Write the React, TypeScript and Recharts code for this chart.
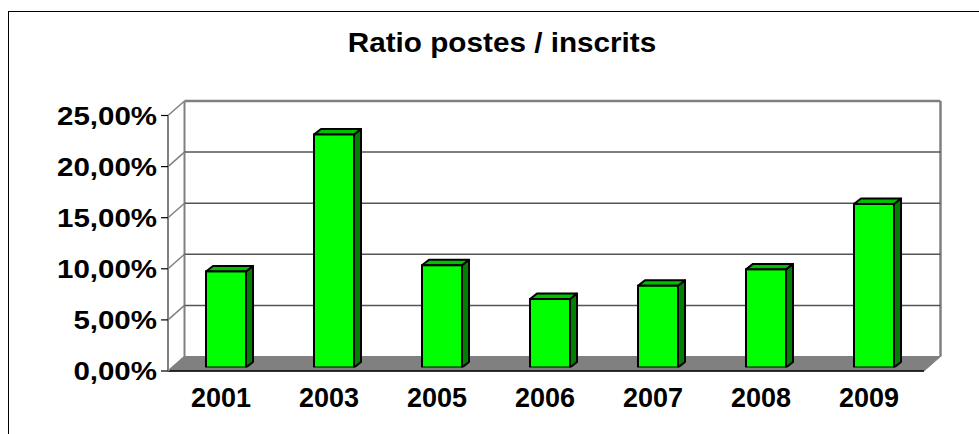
import React from 'react';
import { BarChart, Bar, XAxis, YAxis, CartesianGrid } from 'recharts';

const title = 'Ratio postes / inscrits';
const years = ['2001', '2003', '2005', '2006', '2007', '2008', '2009'];
const ratios = [9.4, 22.8, 10.0, 6.7, 8.0, 9.6, 16.0];
const yTicks = [0, 5, 10, 15, 20, 25];
const yTickLabels = ['0,00%', '5,00%', '10,00%', '15,00%', '20,00%', '25,00%'];

const data = years.map((year, i) => ({ year, ratio: ratios[i] }));

// pseudo-3D projection offsets relative to the bar plane
const FRONT_DX = -4;
const FRONT_DY = 3.5;
const BACK_DX = 12.5;
const BACK_DY = -11;
const BAR_DX = 7;
const BAR_DY = -5.5;

const FONT = '"Liberation Sans", Arial, sans-serif';

const GridLine = (p: any) => {
  const { x1, x2, y1 } = p;
  const px = typeof p.x === 'number' ? p.x : x1;
  const pw = typeof p.width === 'number' ? p.width : x2 - x1;
  const py = typeof p.y === 'number' ? p.y : y1;
  const ph = typeof p.height === 'number' ? p.height : 0;
  const y = y1;
  const isBottom = Math.abs(y - (py + ph)) < 0.6;
  const isTop = Math.abs(y - py) < 0.6;
  return (
    <g>
      {isBottom && (
        <g>
          <line x1={px + FRONT_DX} y1={py + FRONT_DY} x2={px + FRONT_DX} y2={py + ph + FRONT_DY} stroke="#808080" strokeWidth={2} />
          <line x1={px + BACK_DX} y1={py + BACK_DY} x2={px + BACK_DX} y2={py + ph + BACK_DY} stroke="#808080" strokeWidth={2} />
          <line x1={px + pw + BACK_DX} y1={py + BACK_DY} x2={px + pw + BACK_DX} y2={py + ph + BACK_DY} stroke="#808080" strokeWidth={2.5} />
          <polygon
            points={`${px + FRONT_DX},${y + FRONT_DY} ${px + pw + FRONT_DX},${y + FRONT_DY} ${px + pw + BACK_DX},${y + BACK_DY} ${px + BACK_DX},${y + BACK_DY}`}
            fill="#808080"
            stroke="#808080"
            strokeWidth={1}
          />
          <line x1={px + FRONT_DX} y1={y + FRONT_DY} x2={px + pw + FRONT_DX} y2={y + FRONT_DY} stroke="#000" strokeWidth={1.5} />
        </g>
      )}
      {!isBottom && (
        <line
          x1={px + BACK_DX}
          y1={y + BACK_DY}
          x2={px + pw + BACK_DX}
          y2={y + BACK_DY}
          stroke={isTop ? '#808080' : '#555'}
          strokeWidth={isTop ? 2.5 : 1.5}
        />
      )}
      <line x1={px + FRONT_DX} y1={y + FRONT_DY} x2={px + BACK_DX} y2={y + BACK_DY} stroke="#808080" strokeWidth={1.5} />
      <line x1={px + FRONT_DX - 7} y1={y + FRONT_DY} x2={px + FRONT_DX} y2={y + FRONT_DY} stroke="#000" strokeWidth={1.2} />
    </g>
  );
};

const Bar3D = (p: any) => {
  const { x, y, width, height } = p;
  if (height == null || height <= 0) return null;
  return (
    <g>
      <polygon
        points={`${x + width},${y} ${x + width + BAR_DX},${y + BAR_DY} ${x + width + BAR_DX},${y + height + BAR_DY} ${x + width},${y + height}`}
        fill="#008000"
        stroke="#000"
        strokeWidth={2}
        strokeLinejoin="round"
      />
      <polygon
        points={`${x},${y} ${x + BAR_DX},${y + BAR_DY} ${x + width + BAR_DX},${y + BAR_DY} ${x + width},${y}`}
        fill="#00C000"
        stroke="#000"
        strokeWidth={2}
        strokeLinejoin="round"
      />
      <rect x={x} y={y} width={width} height={height} fill="#00FF00" stroke="#000" strokeWidth={2} />
    </g>
  );
};

const YTick = (p: any) => {
  const idx = yTicks.indexOf(p.payload.value);
  const label = idx >= 0 ? yTickLabels[idx] : String(p.payload.value);
  return (
    <text
      transform={`translate(${p.x - 15},${p.y + 12.5}) scale(1.18,1)`}
      textAnchor="end"
      fontFamily={FONT}
      fontWeight="bold"
      fontSize={25}
      fill="#000"
    >
      {label}
    </text>
  );
};

const XTick = (p: any) => (
  <text
    x={p.x - 5}
    y={p.y + 39.5}
    textAnchor="middle"
    fontFamily={FONT}
    fontWeight="bold"
    fontSize={27}
    fill="#000"
  >
    {p.payload.value}
  </text>
);

export default function App() {
  return (
    <div style={{ position: 'absolute', left: 0, top: 0, width: 979, height: 434, overflow: 'hidden', background: '#fff' }}>
      <div
        style={{
          position: 'absolute',
          left: 8,
          top: 11,
          width: 1000,
          height: 500,
          border: '1.5px solid #000',
          boxSizing: 'border-box',
        }}
      />
      <div
        style={{
          position: 'absolute',
          left: 0,
          top: 29,
          width: 1004,
          textAlign: 'center',
          fontFamily: FONT,
          fontWeight: 'bold',
          fontSize: 28,
          lineHeight: '28px',
          color: '#000',
          transform: 'scaleX(1.06)',
          transformOrigin: '502px 0',
          whiteSpace: 'nowrap',
        }}
      >
        {title}
      </div>
      <div style={{ position: 'absolute', left: 0, top: 0 }}>
        <BarChart width={979} height={434} data={data} margin={{ top: 112, right: 51, bottom: 0, left: 0 }}>
          <CartesianGrid vertical={false} horizontal={GridLine} />
          <XAxis dataKey="year" height={66.5} axisLine={false} tickLine={false} tickSize={0} tickMargin={0} interval={0} tick={XTick} />
          <YAxis
            width={172}
            domain={[0, 25]}
            ticks={yTicks}
            axisLine={false}
            tickLine={false}
            tickSize={0}
            tickMargin={0}
            tick={YTick}
            allowDataOverflow
          />
          <Bar dataKey="ratio" barSize={40} shape={Bar3D} isAnimationActive={false} />
        </BarChart>
      </div>
    </div>
  );
}
